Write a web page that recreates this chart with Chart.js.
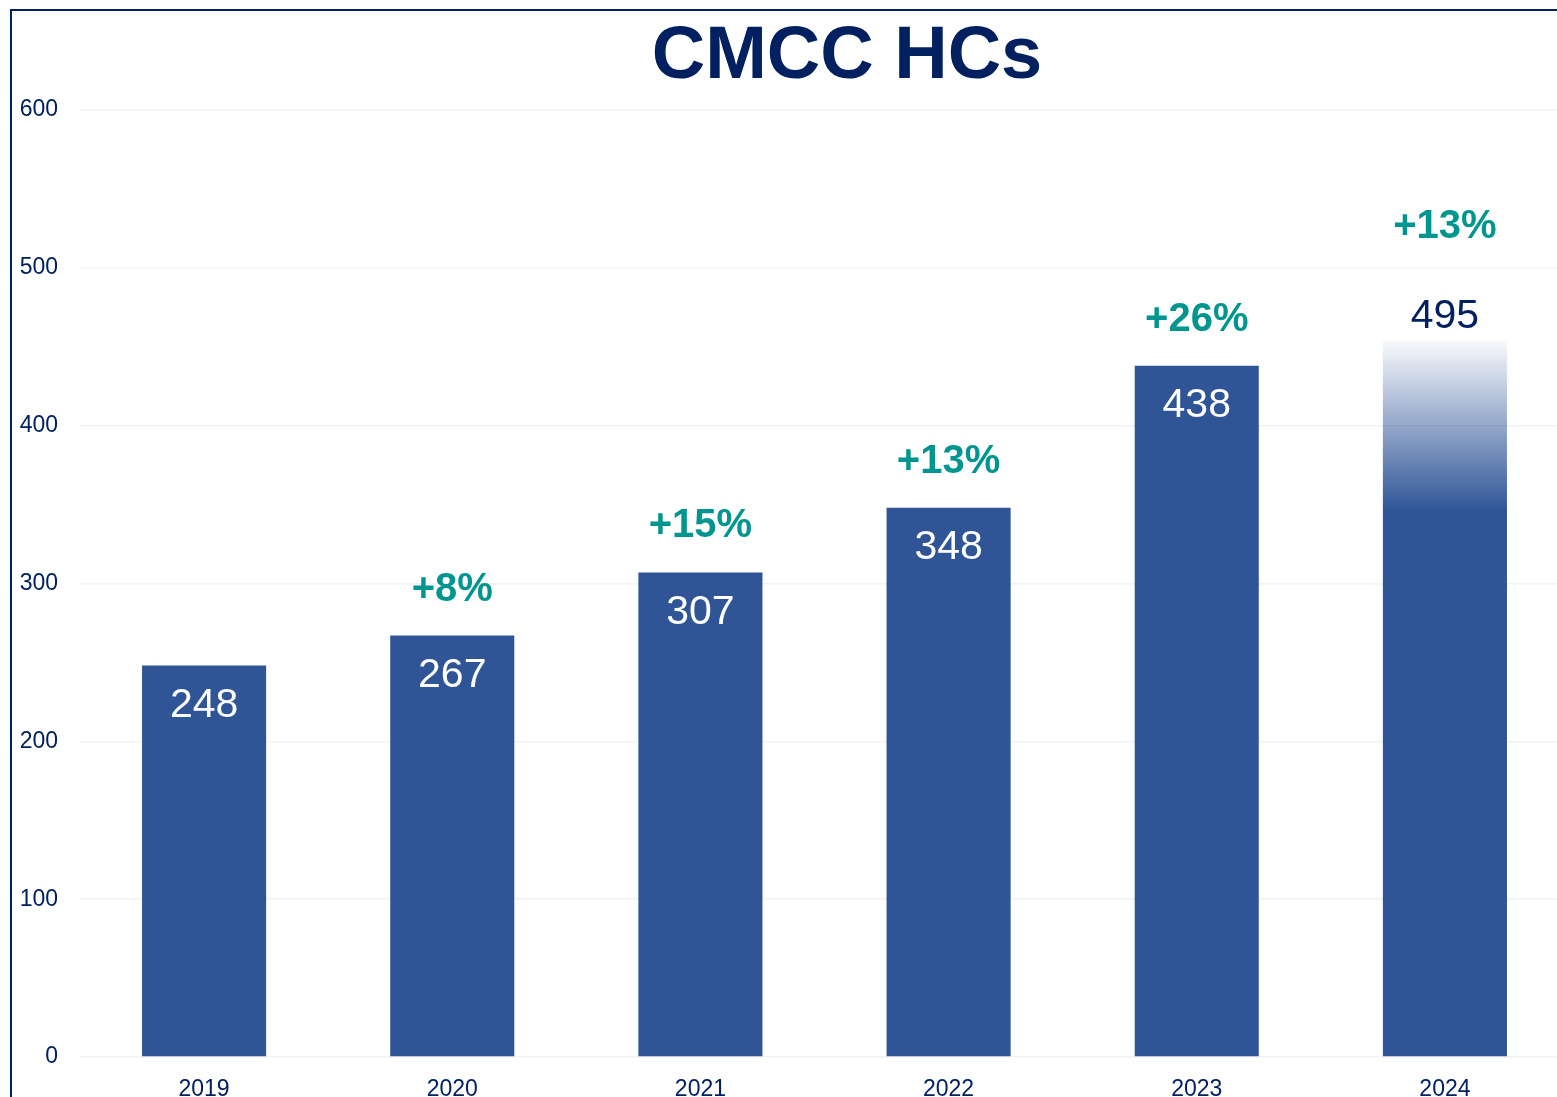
<!DOCTYPE html>
<html>
<head>
<meta charset="utf-8">
<script src="https://cdn.jsdelivr.net/npm/chart.js@4"></script>
<style>
  html, body { margin: 0; padding: 0; background: #fff; overflow: hidden; width: 1557px; height: 1097px; }
  #frame { position: absolute; left: 10px; top: 9px; width: 1600px; height: 1200px;
           border-left: 2.5px solid #002060; border-top: 2.5px solid #002060; pointer-events: none; }
  #wrap { position: absolute; left: 0; top: 0; width: 1570px; height: 1112px; }
</style>
</head>
<body>
<div id="wrap"><canvas id="chart__hcs"></canvas></div>
<div id="frame"></div>
<script>
const years = ['2019', '2020', '2021', '2022', '2023', '2024'];
// 2024 bar is drawn to ~454 and fades out above the 2022-level base
const headcount = [248, 267, 307, 348, 438, 454];
const valueLabels = ['248', '267', '307', '348', '438', '495'];
const growthLabels = ['', '+8%', '+15%', '+13%', '+26%', '+13%'];
const labelInside = [true, true, true, true, true, false];
const fadeFrom = [null, null, null, null, null, 346];
const yMax = 600;
const yStep = 100;

const navy = '#002060';
const barBlue = '#2F5597';
const teal = '#00968F';

const barColor = (ctx) => {
    const i = ctx.dataIndex;
    const chart = ctx.chart;
    if (fadeFrom[i] == null || !chart.chartArea) return barBlue;
    const y = chart.scales.y;
    const g = chart.ctx.createLinearGradient(0, y.getPixelForValue(fadeFrom[i]), 0, y.getPixelForValue(headcount[i]));
    g.addColorStop(0, 'rgba(47,85,151,1)');
    g.addColorStop(1, 'rgba(47,85,151,0.03)');
    return g;
};

const labelPlugin = {
    id: 'labels',
    afterDatasetsDraw(chart) {
        const c = chart.ctx;
        const meta = chart.getDatasetMeta(0);
        c.save();
        c.textAlign = 'center';
        c.textBaseline = 'middle';
        meta.data.forEach((bar, i) => {
            c.font = '41px Arial, "Liberation Sans"';
            let growY;
            if (labelInside[i]) {
                c.fillStyle = '#fff';
                c.fillText(valueLabels[i], bar.x, bar.y + 40);
                growY = bar.y - 46;
            } else {
                c.fillStyle = navy;
                c.fillText(valueLabels[i], bar.x, bar.y - 24);
                growY = bar.y - 113;
            }
            if (growthLabels[i]) {
                c.font = 'bold 40px Arial, "Liberation Sans"';
                c.fillStyle = teal;
                c.fillText(growthLabels[i], bar.x, growY);
            }
        });
        // title
        c.font = 'bold 74px Arial, "Liberation Sans"';
        c.fillStyle = navy;
        c.fillText('CMCC HCs', 847, 58);
        c.restore();
    }
};

const data = {
    labels: years,
    datasets: [{
        label: 'HCs',
        data: headcount,
        backgroundColor: barColor,
        barPercentage: 0.5,
        categoryPercentage: 1.0,
    }]
};

const config = {
    type: 'bar',
    data: data,
    plugins: [labelPlugin],
    options: {
        responsive: true,
        maintainAspectRatio: false,
        animation: false,
        layout: { padding: { top: 110, left: 0, right: 1, bottom: 0 } },
        plugins: {
            legend: { display: false },
            tooltip: { enabled: false },
        },
        scales: {
            x: {
                grid: { display: false, drawTicks: false },
                border: { display: false },
                ticks: { color: navy, font: { size: 23, family: 'Arial, "Liberation Sans"' }, padding: 19 },
                afterFit: (s) => { s.height = 55; },
            },
            y: {
                min: 0,
                max: yMax,
                grid: { color: '#F2F2F2', lineWidth: 1.5, drawTicks: false },
                border: { display: false },
                ticks: { stepSize: yStep, color: navy, font: { size: 23, family: 'Arial, "Liberation Sans"' }, padding: 22 },
                afterFit: (s) => { s.width = 80; },
            }
        }
    }
};
const canvas = document.getElementById('chart__hcs');
const chart = new Chart(canvas, config);
</script>
</body>
</html>
